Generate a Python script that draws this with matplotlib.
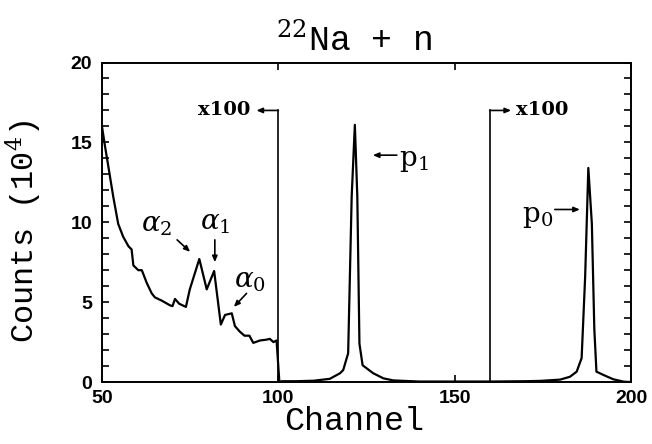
import matplotlib
matplotlib.use("Agg")
import matplotlib.pyplot as plt
import numpy as np

# spectrum (channel, counts / 1e4); beyond channel 100 scaled x100
channel = [50.0, 50.9, 51.8, 53.2, 54.6, 56.0, 57.5, 58.4, 58.9, 60.3, 61.3, 62.7,
           64.1, 65.0, 66.9, 69.3, 70.0, 70.7, 71.9, 73.8, 74.9, 77.6, 79.7, 81.8,
           83.7, 84.9, 86.8, 87.7, 89.1, 90.4, 91.8, 92.9, 94.8, 96.6, 97.6, 98.6,
           99.5, 100.3, 101.0, 105.0, 110.0, 114.6, 117.5, 118.4, 119.8, 120.8, 121.7,
           122.4, 123.0, 123.9, 126.9, 129.8, 132.6, 140.0, 160.0, 170.0, 174.2,
           179.9, 182.7, 184.6, 186.0, 187.0, 187.9, 188.9, 189.6, 190.2, 192.2,
           195.0, 198.0, 200.0]
counts = [16.0, 14.7, 13.5, 11.6, 9.9, 9.1, 8.5, 8.3, 7.3, 7.0, 7.0, 6.2,
          5.55, 5.3, 5.1, 4.8, 4.75, 5.2, 4.9, 4.7, 5.8, 7.7, 5.8, 6.95,
          3.6, 4.2, 4.3, 3.5, 3.15, 2.9, 2.9, 2.45, 2.6, 2.65, 2.7, 2.5,
          2.6, 0.0, 0.05, 0.05, 0.08, 0.2, 0.55, 0.75, 1.8, 11.6, 16.1,
          11.6, 2.4, 1.05, 0.55, 0.23, 0.1, 0.03, 0.03, 0.05, 0.07,
          0.15, 0.33, 0.65, 1.5, 6.6, 13.4, 9.9, 3.3, 0.65, 0.44,
          0.17, 0.02, 0.0]

x_ticks = [50, 100, 150, 200]
y_ticks = [0, 5, 10, 15, 20]
scale_marks = [100, 160]   # channels where the x100 scaling starts
scale_top = 17

plt.rcParams['mathtext.fontset'] = 'dejavuserif'
mono = 'Liberation Mono'

fig = plt.figure(figsize=(6.52, 4.44), dpi=100)
ax = fig.add_axes([0.1564, 0.1396, 0.8114, 0.7196])

ax.plot(channel, counts, color='black', lw=1.6)

# x100 markers
for xm in scale_marks:
    ax.plot([xm, xm], [0, scale_top], color='black', lw=1.2)
head = '-|>,head_length=0.35,head_width=0.15'
ax.annotate('', xy=(93.8, scale_top), xytext=(100, scale_top),
            arrowprops=dict(arrowstyle=head, color='black', lw=1.2, shrinkA=0, shrinkB=0))
ax.annotate('', xy=(166.0, scale_top), xytext=(160, scale_top),
            arrowprops=dict(arrowstyle=head, color='black', lw=1.2, shrinkA=0, shrinkB=0))
ax.text(92.0, scale_top, 'x100', ha='right', va='center', fontsize=14,
        fontweight='bold', family='DejaVu Serif')
ax.text(167.5, scale_top, 'x100', ha='left', va='center', fontsize=14,
        fontweight='bold', family='DejaVu Serif')

# peak labels
arrow = dict(arrowstyle=head, color='black', lw=1.2, shrinkA=0, shrinkB=0)
ax.annotate('', xy=(75.0, 8.15), xytext=(71.3, 8.9), arrowprops=arrow)
ax.text(65.5, 9.9, r'$\alpha_2$', ha='center', va='center', fontsize=20)
ax.annotate('', xy=(82.0, 7.5), xytext=(82.0, 8.9), arrowprops=arrow)
ax.text(82.0, 10.0, r'$\alpha_1$', ha='center', va='center', fontsize=20)
ax.annotate('', xy=(87.4, 4.7), xytext=(91.0, 5.55), arrowprops=arrow)
ax.text(92.0, 6.4, r'$\alpha_0$', ha='center', va='center', fontsize=20)
ax.annotate('', xy=(126.8, 14.2), xytext=(133.6, 14.2), arrowprops=arrow)
ax.text(134.3, 13.9, r'$\mathrm{p}_1$', ha='left', va='center', fontsize=20)
ax.annotate('', xy=(185.5, 10.8), xytext=(178.4, 10.8), arrowprops=arrow)
ax.text(178.0, 10.4, r'$\mathrm{p}_0$', ha='right', va='center', fontsize=20)

ax.set_xlim(50, 200)
ax.set_ylim(0, 20)
ax.set_xticks(x_ticks)
ax.set_yticks(y_ticks)
ax.set_yticks(np.arange(0, 21, 1), minor=True)
ax.tick_params(axis='both', which='both', direction='in', top=True, right=True,
               length=5, width=1.2, labelsize=14)
ax.tick_params(axis='x', pad=6)
ax.tick_params(axis='y', pad=7)
for lab in ax.get_xticklabels() + ax.get_yticklabels():
    lab.set_fontweight('bold')
    lab.set_family('Liberation Sans')
for s in ax.spines.values():
    s.set_linewidth(1.4)

ax.set_xlabel('Channel', fontsize=24, family=mono)
ax.xaxis.set_label_coords(0.477, -0.075)
ax.set_ylabel(r'Counts (10$^4$)', fontsize=23, family=mono)
ax.yaxis.set_label_coords(-0.11, 0.47)
ax.set_title(r'$^{22}$Na + n', fontsize=25, family=mono, x=0.477, pad=8)

fig.savefig('out.png', dpi=100)
